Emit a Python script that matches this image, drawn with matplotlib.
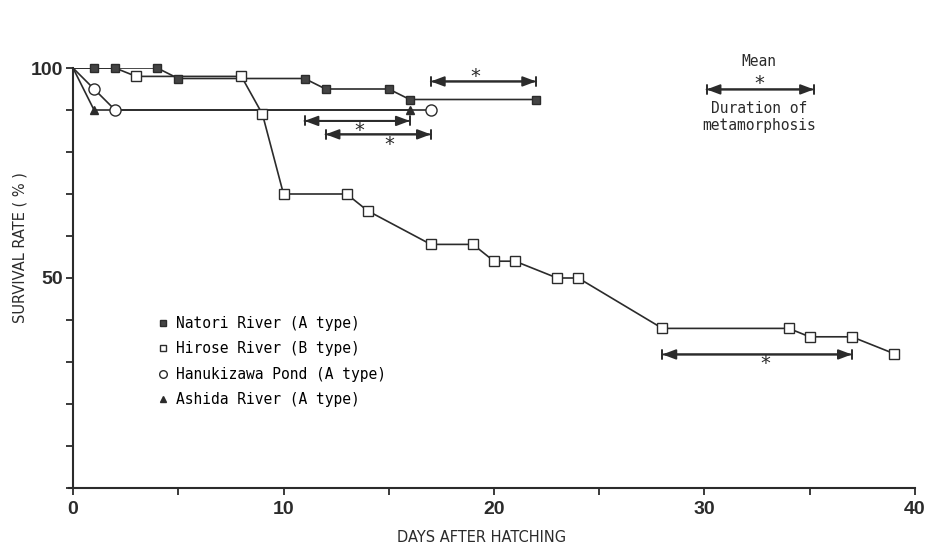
import numpy as np
import matplotlib
matplotlib.use("Agg")
import matplotlib.pyplot as plt
from matplotlib.lines import Line2D

# ---- data ----
natori_x = [0, 1, 2, 4, 5, 11, 12, 15, 16, 22]
natori_y = [100, 100, 100, 100, 97.5, 97.5, 95, 95, 92.5, 92.5]

hirose_x = [0, 1, 2, 3, 8, 9, 10, 13, 14, 17, 19, 20, 21, 23, 24, 28, 34, 35, 37, 39]
hirose_y = [100, 100, 100, 98, 98, 89, 70, 70, 66, 58, 58, 54, 54, 50, 50, 38, 38, 36, 36, 32]

hanuki_x = [0, 1, 2, 17]
hanuki_y = [100, 95, 90, 90]

ashida_x = [0, 1, 16]
ashida_y = [100, 90, 90]

# duration of metamorphosis (start day, end day, level, asterisk x, asterisk y)
meta_start = [17, 11, 12, 28]
meta_end = [22, 16, 17, 37]
meta_level = [96.8, 87.4, 84.2, 31.8]
star_x = [19.1, 13.6, 15.0, 32.9]
star_y = [98.0, 85.2, 81.7, 29.7]

labels = ["Natori River (A type)", "Hirose River (B type)",
          "Hanukizawa Pond (A type)", "Ashida River (A type)"]

mono = "DejaVu Sans Mono"
ink = "#2b2b2b"

fig = plt.figure(figsize=(9.29, 5.48), dpi=100)
ax = fig.add_axes([73 / 929, 60 / 548, 842 / 929, 420 / 548])

# lines first, then markers (skip the shared origin point)
ax.plot(hirose_x, hirose_y, color=ink, lw=1.2, zorder=2)
ax.plot(hanuki_x, hanuki_y, color=ink, lw=1.2, zorder=2)
ax.plot(ashida_x, ashida_y, color=ink, lw=1.2, zorder=2)
ax.plot(natori_x, natori_y, color=ink, lw=1.2, zorder=2)

ax.plot(hirose_x[3:], hirose_y[3:], ls="none", marker="s", ms=6.5,
        mfc="white", mec=ink, mew=1.0, zorder=3, clip_on=False)
ax.plot(hanuki_x[1:], hanuki_y[1:], ls="none", marker="o", ms=8,
        mfc="white", mec=ink, mew=1.0, zorder=3, clip_on=False)
ax.plot(ashida_x[1:], ashida_y[1:], ls="none", marker="^", ms=5.5,
        mfc=ink, mec=ink, zorder=4, clip_on=False)
ax.plot(natori_x[1:], natori_y[1:], ls="none", marker="s", ms=6,
        mfc="#444444", mec=ink, mew=1.0, zorder=4, clip_on=False)


def meta_arrow(x0, x1, y):
    ax.annotate("", xy=(x1, y), xytext=(x0, y),
                arrowprops=dict(arrowstyle="<|-|>,head_length=0.8,head_width=0.3",
                                color=ink, lw=1.4, shrinkA=0, shrinkB=0))
    ax.annotate("", xy=(x1, y), xytext=(x0, y),
                arrowprops=dict(arrowstyle="|-|,widthA=0.32,widthB=0.32",
                                color=ink, lw=1.4, shrinkA=0, shrinkB=0))


for s, e, lv, sx, sy in zip(meta_start, meta_end, meta_level, star_x, star_y):
    meta_arrow(s, e, lv)
    ax.text(sx, sy, "*", fontsize=14, family=mono, ha="center", va="center", color=ink)

# key for the arrows
meta_arrow(30.1, 35.2, 94.9)
ax.text(32.6, 101.6, "Mean", fontsize=10.5, family=mono, ha="center", va="center", color=ink)
ax.text(32.6, 96.3, "*", fontsize=14, family=mono, ha="center", va="center", color=ink)
ax.text(32.6, 90.4, "Duration of", fontsize=10.5, family=mono, ha="center", va="center", color=ink)
ax.text(32.6, 86.2, "metamorphosis", fontsize=10.5, family=mono, ha="center", va="center", color=ink)

# legend
handles = [
    Line2D([], [], ls="none", marker="s", ms=5, mfc="#444444", mec=ink),
    Line2D([], [], ls="none", marker="s", ms=5, mfc="white", mec=ink),
    Line2D([], [], ls="none", marker="o", ms=5.5, mfc="white", mec=ink),
    Line2D([], [], ls="none", marker="^", ms=5, mfc=ink, mec=ink),
]
ax.legend(handles, labels, loc="upper left", bbox_to_anchor=(0.091, 0.427),
          frameon=False, prop={"family": mono, "size": 10.5},
          handlelength=0.8, handletextpad=0.5, labelspacing=0.72, borderpad=0)

# axes
ax.set_xlim(0, 40)
ax.set_ylim(0, 100)
ax.spines["top"].set_visible(False)
ax.spines["right"].set_visible(False)
ax.spines["left"].set_linewidth(1.5)
ax.spines["bottom"].set_linewidth(1.5)
ax.spines["left"].set_color(ink)
ax.spines["bottom"].set_color(ink)
ax.spines["bottom"].set_bounds(-0.2, 40)

ax.set_xticks([0, 10, 20, 30, 40])
ax.set_xticks([5, 15, 25, 35], minor=True)
ax.set_yticks(np.arange(0, 101, 10))
ax.set_yticklabels(["" if v not in (50, 100) else str(v) for v in range(0, 101, 10)])
ax.tick_params(which="both", direction="out", length=5, width=1.3, color=ink)
ax.tick_params(axis="x", pad=4)
ax.tick_params(axis="y", pad=2)
for lab in ax.get_xticklabels() + ax.get_yticklabels():
    lab.set_family("Liberation Sans")
    lab.set_fontweight("bold")
    lab.set_fontsize(14)
    lab.set_color(ink)

fig.text(20 / 929, 1 - 248 / 548, "SURVIVAL RATE ( % )", rotation=90,
         ha="center", va="center", fontsize=10.5,
         family=["Liberation Sans Narrow", "DejaVu Sans"], color=ink)
fig.text(482 / 929, 1 - 537 / 548, "DAYS AFTER HATCHING",
         ha="center", va="center", fontsize=10.5,
         family=["Liberation Sans Narrow", "DejaVu Sans"], color=ink)

fig.savefig("out.png", dpi=100)
